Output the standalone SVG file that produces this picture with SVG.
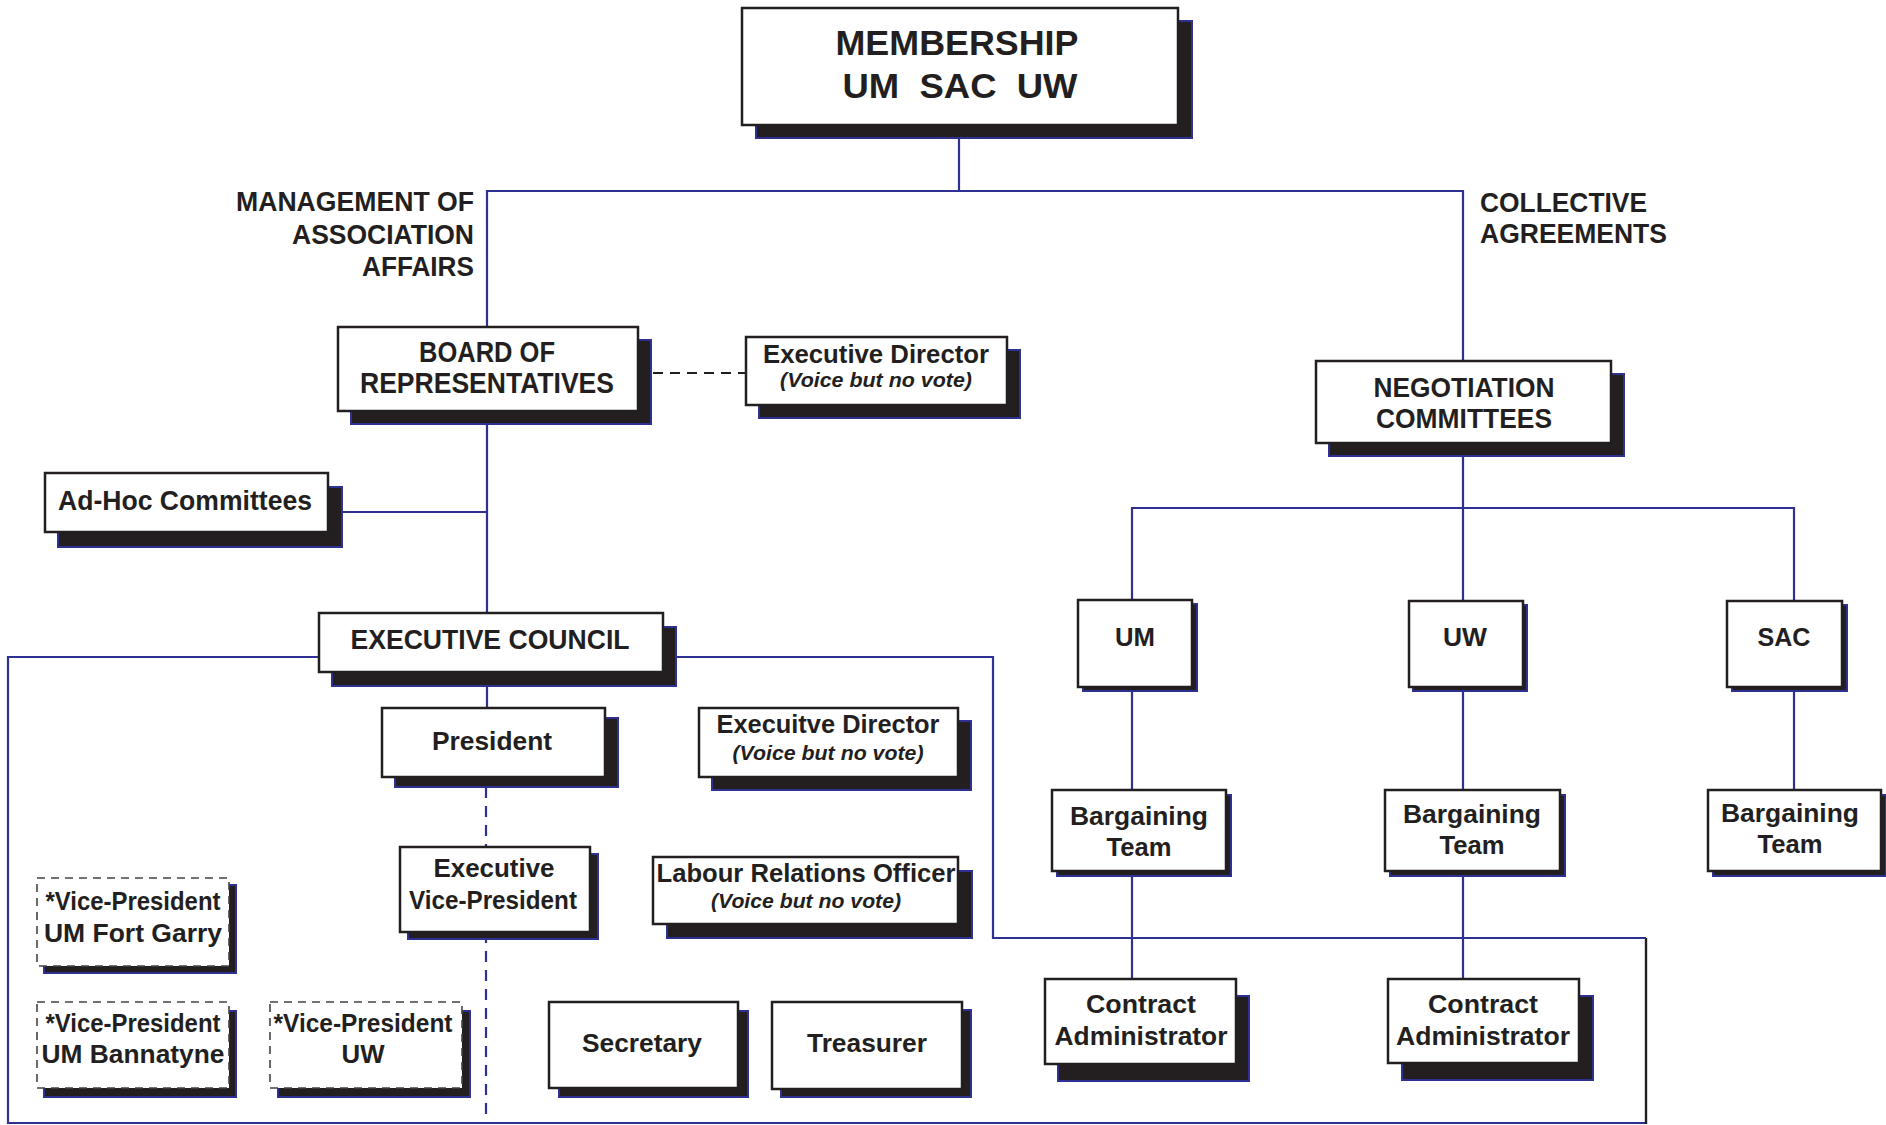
<svg xmlns="http://www.w3.org/2000/svg" width="1886" height="1125" viewBox="0 0 1886 1125">
<style>
.bg{fill:#ffffff}
.box{fill:#ffffff;stroke:#231f20;stroke-width:2.5}
.dbox{fill:#ffffff;stroke:#444;stroke-width:1.6;stroke-dasharray:8 6}
.sh{fill:#231f20;stroke:#2e3192;stroke-width:2}
.ln{fill:none;stroke:#2e3192;stroke-width:2.2}
.dk{fill:none;stroke:#231f20;stroke-width:2.4}
.dl{fill:none;stroke:#2e3192;stroke-width:2.2;stroke-dasharray:11 8}
.bl{fill:none;stroke:#231f20;stroke-width:2;stroke-dasharray:10 7}
text{font-family:"Liberation Sans",Arial,sans-serif;font-weight:bold;fill:#231f20;text-anchor:middle;white-space:pre}
.it{font-style:italic;font-weight:bold;font-size:20px}
.lbl{font-size:27px}
.l{text-anchor:end}
.s{text-anchor:start}
</style>
<rect class="bg" x="0" y="0" width="1886" height="1125"/>
<g id="connectors">
<path class="ln" d="M959 125V191"/>
<path class="ln" d="M487 327V191H1463V361"/>
<path class="ln" d="M487 411V613"/>
<path class="ln" d="M342 512H487"/>
<path class="bl" d="M653 373H746"/>
<path class="ln" d="M1463 443V601"/>
<path class="ln" d="M1132 600V508H1794V601"/>
<path class="ln" d="M1132 687V979"/>
<path class="ln" d="M1463 687V979"/>
<path class="ln" d="M1794 687V790"/>
<path class="ln" d="M319 657H8V1123H1646"/>
<path class="dk" d="M1646 1124V938"/>
<path class="ln" d="M1646 938H993V657H663"/>
<path class="ln" d="M487 672V708"/>
<path class="dl" d="M486 787V847"/>
<path class="dl" d="M486 932V1123"/>
</g>
<g id="membership">
<rect class="sh" x="756" y="21" width="436" height="117"/>
<rect class="box" x="742" y="8" width="436" height="117"/>
<text x="957" y="55" font-size="35" textLength="243" lengthAdjust="spacingAndGlyphs">MEMBERSHIP</text>
<text x="960" y="98" font-size="35" textLength="235" lengthAdjust="spacingAndGlyphs">UM  SAC  UW</text>
</g>
<g id="label-management">
<text class="lbl l" x="474" y="211" textLength="238" lengthAdjust="spacingAndGlyphs">MANAGEMENT OF</text>
<text class="lbl l" x="474" y="244" textLength="182" lengthAdjust="spacingAndGlyphs">ASSOCIATION</text>
<text class="lbl l" x="474" y="276" textLength="112" lengthAdjust="spacingAndGlyphs">AFFAIRS</text>
</g>
<g id="label-collective">
<text class="lbl s" x="1480" y="212" textLength="167" lengthAdjust="spacingAndGlyphs">COLLECTIVE</text>
<text class="lbl s" x="1480" y="243" textLength="187" lengthAdjust="spacingAndGlyphs">AGREEMENTS</text>
</g>
<g id="board">
<rect class="sh" x="351" y="340" width="300" height="84"/>
<rect class="box" x="338" y="327" width="300" height="84"/>
<text x="487" y="362" font-size="29" textLength="136" lengthAdjust="spacingAndGlyphs">BOARD OF</text>
<text x="487" y="393" font-size="29" textLength="254" lengthAdjust="spacingAndGlyphs">REPRESENTATIVES</text>
</g>
<g id="execdir1">
<rect class="sh" x="759" y="350" width="261" height="68"/>
<rect class="box" x="746" y="337" width="261" height="68"/>
<text x="876" y="363" font-size="25" textLength="226" lengthAdjust="spacingAndGlyphs">Executive Director</text>
<text class="it" x="876" y="387" textLength="192" lengthAdjust="spacingAndGlyphs">(Voice but no vote)</text>
</g>
<g id="negotiation">
<rect class="sh" x="1329" y="374" width="295" height="82"/>
<rect class="box" x="1316" y="361" width="295" height="82"/>
<text x="1464" y="397" font-size="28" textLength="181" lengthAdjust="spacingAndGlyphs">NEGOTIATION</text>
<text x="1464" y="428" font-size="28" textLength="176" lengthAdjust="spacingAndGlyphs">COMMITTEES</text>
</g>
<g id="adhoc">
<rect class="sh" x="58" y="487" width="284" height="60"/>
<rect class="box" x="45" y="473" width="283" height="59"/>
<text x="185" y="510" font-size="27" textLength="254" lengthAdjust="spacingAndGlyphs">Ad-Hoc Committees</text>
</g>
<g id="execcouncil">
<rect class="sh" x="332" y="627" width="344" height="59"/>
<rect class="box" x="319" y="613" width="344" height="59"/>
<text x="490" y="649" font-size="28" textLength="279" lengthAdjust="spacingAndGlyphs">EXECUTIVE COUNCIL</text>
</g>
<g id="president">
<rect class="sh" x="395" y="718" width="223" height="69"/>
<rect class="box" x="382" y="708" width="223" height="69"/>
<text x="492" y="750" font-size="26" textLength="120" lengthAdjust="spacingAndGlyphs">President</text>
</g>
<g id="execdir2">
<rect class="sh" x="712" y="721" width="259" height="69"/>
<rect class="box" x="699" y="708" width="259" height="69"/>
<text x="828" y="733" font-size="25" textLength="223" lengthAdjust="spacingAndGlyphs">Execuitve Director</text>
<text class="it" x="828" y="760" textLength="191" lengthAdjust="spacingAndGlyphs">(Voice but no vote)</text>
</g>
<g id="evp">
<rect class="sh" x="408" y="854" width="190" height="85"/>
<rect class="box" x="400" y="847" width="190" height="85"/>
<text x="494" y="877" font-size="26" textLength="121" lengthAdjust="spacingAndGlyphs">Executive</text>
<text x="493" y="909" font-size="26" textLength="168" lengthAdjust="spacingAndGlyphs">Vice-President</text>
</g>
<g id="lro">
<rect class="sh" x="667" y="871" width="305" height="67"/>
<rect class="box" x="653" y="857" width="305" height="67"/>
<text x="806" y="882" font-size="26" textLength="299" lengthAdjust="spacingAndGlyphs">Labour Relations Officer</text>
<text class="it" x="806" y="908" textLength="190" lengthAdjust="spacingAndGlyphs">(Voice but no vote)</text>
</g>
<g id="vp-fortgarry">
<rect class="sh" x="44" y="885" width="192" height="88"/>
<rect class="dbox" x="37" y="878" width="192" height="88"/>
<text x="133" y="910" font-size="25" textLength="175" lengthAdjust="spacingAndGlyphs">*Vice-President</text>
<text x="133" y="942" font-size="25" textLength="178" lengthAdjust="spacingAndGlyphs">UM Fort Garry</text>
</g>
<g id="vp-bannatyne">
<rect class="sh" x="44" y="1011" width="192" height="86"/>
<rect class="dbox" x="37" y="1002" width="192" height="86"/>
<text x="133" y="1032" font-size="25" textLength="175" lengthAdjust="spacingAndGlyphs">*Vice-President</text>
<text x="133" y="1063" font-size="25" textLength="183" lengthAdjust="spacingAndGlyphs">UM Bannatyne</text>
</g>
<g id="vp-uw">
<rect class="sh" x="278" y="1011" width="192" height="86"/>
<rect class="dbox" x="270" y="1002" width="192" height="86"/>
<text x="363" y="1032" font-size="25" textLength="179" lengthAdjust="spacingAndGlyphs">*Vice-President</text>
<text x="363" y="1063" font-size="25" textLength="43" lengthAdjust="spacingAndGlyphs">UW</text>
</g>
<g id="secretary">
<rect class="sh" x="559" y="1011" width="189" height="86"/>
<rect class="box" x="549" y="1002" width="189" height="86"/>
<text x="642" y="1052" font-size="26" textLength="120" lengthAdjust="spacingAndGlyphs">Secretary</text>
</g>
<g id="treasurer">
<rect class="sh" x="781" y="1010" width="190" height="87"/>
<rect class="box" x="772" y="1002" width="190" height="87"/>
<text x="867" y="1052" font-size="26" textLength="120" lengthAdjust="spacingAndGlyphs">Treasurer</text>
</g>
<g id="um">
<rect class="sh" x="1083" y="604" width="114" height="87"/>
<rect class="box" x="1078" y="600" width="114" height="87"/>
<text x="1135" y="646" font-size="25" textLength="40" lengthAdjust="spacingAndGlyphs">UM</text>
</g>
<g id="uw">
<rect class="sh" x="1413" y="605" width="114" height="86"/>
<rect class="box" x="1409" y="601" width="114" height="86"/>
<text x="1465" y="646" font-size="25" textLength="44" lengthAdjust="spacingAndGlyphs">UW</text>
</g>
<g id="sac">
<rect class="sh" x="1732" y="605" width="115" height="86"/>
<rect class="box" x="1727" y="601" width="115" height="86"/>
<text x="1784" y="646" font-size="25" textLength="53" lengthAdjust="spacingAndGlyphs">SAC</text>
</g>
<g id="bt-um">
<rect class="sh" x="1057" y="795" width="174" height="81"/>
<rect class="box" x="1052" y="790" width="174" height="81"/>
<text x="1139" y="825" font-size="26" textLength="138" lengthAdjust="spacingAndGlyphs">Bargaining</text>
<text x="1139" y="856" font-size="26" textLength="65" lengthAdjust="spacingAndGlyphs">Team</text>
</g>
<g id="bt-uw">
<rect class="sh" x="1390" y="795" width="175" height="81"/>
<rect class="box" x="1385" y="790" width="175" height="81"/>
<text x="1472" y="823" font-size="26" textLength="138" lengthAdjust="spacingAndGlyphs">Bargaining</text>
<text x="1472" y="854" font-size="26" textLength="65" lengthAdjust="spacingAndGlyphs">Team</text>
</g>
<g id="bt-sac">
<rect class="sh" x="1713" y="795" width="173" height="81"/>
<rect class="box" x="1708" y="790" width="173" height="81"/>
<text x="1790" y="822" font-size="26" textLength="138" lengthAdjust="spacingAndGlyphs">Bargaining</text>
<text x="1790" y="853" font-size="26" textLength="65" lengthAdjust="spacingAndGlyphs">Team</text>
</g>
<g id="ca-um">
<rect class="sh" x="1058" y="996" width="191" height="85"/>
<rect class="box" x="1045" y="979" width="191" height="85"/>
<text x="1141" y="1013" font-size="26" textLength="110" lengthAdjust="spacingAndGlyphs">Contract</text>
<text x="1141" y="1045" font-size="26" textLength="173" lengthAdjust="spacingAndGlyphs">Administrator</text>
</g>
<g id="ca-uw">
<rect class="sh" x="1402" y="996" width="191" height="84"/>
<rect class="box" x="1388" y="979" width="191" height="84"/>
<text x="1483" y="1013" font-size="26" textLength="110" lengthAdjust="spacingAndGlyphs">Contract</text>
<text x="1483" y="1045" font-size="26" textLength="174" lengthAdjust="spacingAndGlyphs">Administrator</text>
</g>
</svg>
